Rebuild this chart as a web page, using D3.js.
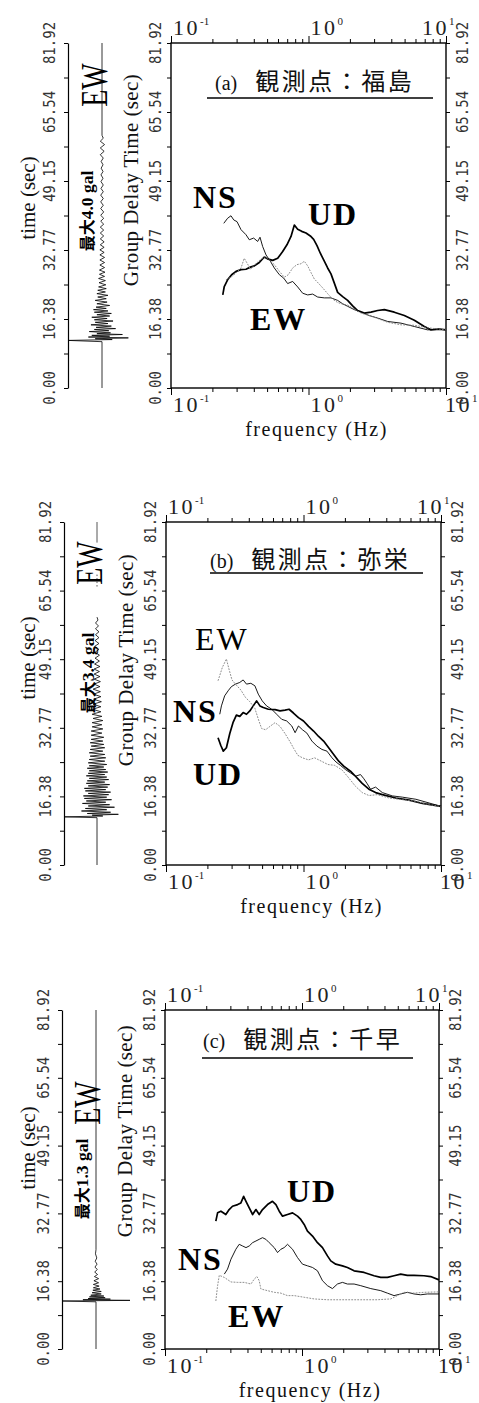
<!DOCTYPE html>
<html>
<head>
<meta charset="utf-8">
<script src="https://cdn.jsdelivr.net/npm/d3@7"></script>
<style>
html, body { margin: 0; padding: 0; background: #fff; }
svg { display: block; }
</style>
</head>
<body>
<div id="vis"></div>
<script>
// ---------------- data ----------------
var yTickValues = [0, 16.384, 32.768, 49.152, 65.536, 81.92];
var yTickLabels = ["0.00", "16.38", "32.77", "49.15", "65.54", "81.92"];
var xDecades = [0.1, 1, 10];
var xDecadeExp = ["-1", "0", "1"];
var panelLetters = ["(a)", "(b)", "(c)"];
var stations = ["福島", "弥栄", "千早"];
var peakGal = [4.0, 3.4, 1.3];
var peakLabels = ["4.0 gal", "3.4 gal", "1.3 gal"];
var componentNames = ["NS", "UD", "EW"];

// group delay time (sec) vs frequency (Hz)
var fukushimaNS = [[0.242,39.1],[0.258,40.3],[0.273,40.9],[0.286,39.9],[0.302,39.5],[0.323,37.6],[0.351,36.4],[0.371,35.2],[0.399,35.6],[0.427,34.8],[0.444,35.8],[0.464,33.6],[0.491,31.6],[0.528,30.1],[0.564,28.5],[0.614,26.9],[0.660,26.1],[0.705,24.8],[0.767,25.3],[0.834,24.0],[0.907,22.5],[0.986,22.1],[1.072,22.3],[1.166,21.6],[1.303,21.4],[1.457,21.4],[1.629,20.8],[1.772,20.0],[1.926,19.4],[2.154,18.6],[2.408,18.0],[2.769,17.2],[3.184,16.6],[3.764,15.8],[4.706,15.4],[5.884,14.6],[7.354,13.8],[8.69,14.0],[10,13.8]];
var fukushimaUD = [[0.238,22.1],[0.244,24.1],[0.258,25.7],[0.276,26.9],[0.297,27.7],[0.323,28.1],[0.351,28.2],[0.378,28.7],[0.404,29.0],[0.439,29.8],[0.477,31.1],[0.510,30.6],[0.549,30.3],[0.597,30.8],[0.649,32.4],[0.697,34.0],[0.746,36.0],[0.789,38.7],[0.834,37.7],[0.892,37.2],[0.959,36.8],[1.031,36.1],[1.090,35.3],[1.153,33.8],[1.219,32.0],[1.303,30.1],[1.378,28.5],[1.457,27.1],[1.541,24.9],[1.629,22.7],[1.772,21.7],[1.926,20.8],[2.095,19.5],[2.277,18.4],[2.546,17.8],[2.848,18.0],[3.184,18.4],[3.56,18.6],[4.208,18.0],[4.976,17.2],[5.884,16.1],[6.955,14.6],[7.777,13.8],[8.94,14.0],[10,13.8]];
var fukushimaEW = [[0.251,25.7],[0.273,26.3],[0.297,27.3],[0.323,28.5],[0.341,30.8],[0.357,29.7],[0.378,28.2],[0.408,29.3],[0.444,30.4],[0.483,31.2],[0.519,30.4],[0.564,29.3],[0.614,27.7],[0.667,26.3],[0.713,26.9],[0.767,28.5],[0.825,29.3],[0.882,29.5],[0.932,30.1],[0.986,29.0],[1.043,27.4],[1.102,25.9],[1.179,24.9],[1.274,23.7],[1.378,22.4],[1.498,21.1],[1.629,20.3],[1.772,19.9],[1.926,19.7],[2.154,18.7],[2.408,17.8],[3.011,16.8],[3.764,15.6],[4.706,15.0],[5.884,14.9],[7.354,14.3],[10,13.8]];

var yasakaNS = [[0.246,36.0],[0.253,38.0],[0.267,40.4],[0.283,41.6],[0.299,42.6],[0.320,43.2],[0.344,43.6],[0.364,44.2],[0.385,43.2],[0.414,43.4],[0.443,42.8],[0.469,40.8],[0.501,39.2],[0.539,38.0],[0.587,37.2],[0.638,36.0],[0.694,34.8],[0.755,34.4],[0.822,33.2],[0.869,31.6],[0.919,33.2],[0.983,32.3],[1.058,31.5],[1.151,29.6],[1.252,28.4],[1.362,27.6],[1.481,27.2],[1.612,25.6],[1.724,24.6],[1.855,23.8],[2.018,22.8],[2.195,22.0],[2.388,21.2],[2.597,21.6],[2.748,20.6],[2.907,19.4],[3.075,18.1],[3.345,18.6],[3.743,17.3],[4.43,16.5],[5.243,16.2],[6.563,15.7],[8.215,14.8],[10,14.0]];
var yasakaUD = [[0.239,30.4],[0.250,28.6],[0.261,27.2],[0.275,28.0],[0.291,31.4],[0.307,34.0],[0.325,35.8],[0.344,35.5],[0.364,36.4],[0.385,36.0],[0.407,36.8],[0.431,38.0],[0.456,39.2],[0.482,38.0],[0.510,37.6],[0.555,37.2],[0.621,37.1],[0.675,36.8],[0.734,37.0],[0.785,37.2],[0.845,36.3],[0.919,35.2],[1.0,34.4],[1.088,33.1],[1.184,32.0],[1.288,30.7],[1.4,29.6],[1.524,28.0],[1.658,26.4],[1.804,24.8],[1.962,23.6],[2.195,22.4],[2.388,21.2],[2.672,19.5],[2.989,18.1],[3.345,17.3],[3.743,16.8],[4.685,16.0],[5.867,15.5],[7.343,14.7],[10,14.0]];
var yasakaEW = [[0.239,44.0],[0.257,47.2],[0.275,49.2],[0.287,46.8],[0.302,44.2],[0.320,43.2],[0.350,41.8],[0.379,40.0],[0.407,39.0],[0.443,37.4],[0.474,34.4],[0.496,32.6],[0.530,32.3],[0.570,33.1],[0.621,34.0],[0.675,33.1],[0.734,31.4],[0.799,29.4],[0.850,27.8],[0.909,26.2],[0.983,25.6],[1.088,25.1],[1.204,25.6],[1.347,24.8],[1.507,24.0],[1.686,23.8],[1.908,22.7],[2.134,20.8],[2.388,18.8],[2.672,17.3],[2.989,16.6],[3.44,16.8],[4.187,16.0],[5.243,15.6],[6.563,15.2],[8.215,14.4],[10,14.0]];

var chihayaNS = [[0.271,18.1],[0.286,19.3],[0.303,21.7],[0.329,24.1],[0.348,25.3],[0.368,24.9],[0.390,24.5],[0.412,24.9],[0.436,25.7],[0.461,26.1],[0.487,26.5],[0.515,26.9],[0.545,26.5],[0.576,25.7],[0.627,24.5],[0.663,23.3],[0.701,24.1],[0.741,24.5],[0.784,25.3],[0.853,24.1],[0.927,22.1],[1.008,20.5],[1.096,20.1],[1.193,19.7],[1.297,18.9],[1.411,16.5],[1.534,15.3],[1.668,14.6],[1.814,15.7],[1.973,16.1],[2.146,15.7],[2.4,15.7],[2.685,15.3],[3.176,14.6],[3.755,14.1],[4.2,13.5],[4.697,12.9],[5.253,13.3],[5.875,13.7],[6.571,13.3],[7.348,13.1],[8.218,13.3],[10,13.3]];
var chihayaUD = [[0.235,30.9],[0.242,32.9],[0.256,33.3],[0.278,32.5],[0.294,33.7],[0.311,34.5],[0.339,34.9],[0.358,35.3],[0.375,36.9],[0.390,35.7],[0.412,34.1],[0.436,32.5],[0.461,33.7],[0.487,32.5],[0.515,33.7],[0.560,34.9],[0.609,35.7],[0.645,34.9],[0.682,33.3],[0.721,32.1],[0.784,32.5],[0.853,32.9],[0.927,32.1],[0.980,31.3],[1.037,30.1],[1.096,28.5],[1.193,27.3],[1.297,25.7],[1.411,24.5],[1.534,22.5],[1.622,21.3],[1.764,20.5],[1.973,20.1],[2.146,19.7],[2.4,18.9],[2.839,18.5],[3.357,17.7],[3.755,17.3],[4.2,17.3],[4.697,17.7],[5.253,18.1],[5.875,17.8],[6.571,17.8],[7.771,17.7],[8.691,17.5],[10,16.7]];
var chihayaEW = [[0.235,11.6],[0.242,15.3],[0.249,17.8],[0.271,17.3],[0.303,16.2],[0.339,16.1],[0.379,16.1],[0.424,15.7],[0.448,16.9],[0.469,17.5],[0.487,16.5],[0.501,14.5],[0.560,14.1],[0.627,13.7],[0.701,13.5],[0.784,12.9],[0.877,12.9],[1.037,12.5],[1.226,12.1],[1.534,11.9],[2.029,11.9],[2.685,11.9],[3.55,11.9],[4.442,12.1],[4.967,12.9],[5.556,13.7],[6.571,13.5],[7.771,13.7],[10,13.8]];

// EW acceleration traces: [time (sec), acceleration (gal)]
var fukushimaTrace = [[0,0],[11.0,0],[11.3,-4.0],[11.5,1.2],[11.7,-0.8],[11.9,3.1],[12.1,-1.6],[12.3,0.9],[12.5,-1.2],[12.7,2.4],[12.9,-0.6],[13.1,1.0],[13.4,-1.5],[13.6,0.8],[13.9,-0.9],[14.1,1.6],[14.4,-0.7],[14.7,1.1],[15.0,-1.3],[15.3,0.7],[15.6,-0.8],[15.9,1.3],[16.2,-0.9],[16.5,0.6],[16.8,-1.2],[17.1,0.9],[17.4,-0.6],[17.7,1.1],[18.0,-0.9],[18.3,0.7],[18.6,-1.0],[18.9,0.5],[19.2,-0.7],[19.6,0.9],[20.0,-0.6],[20.4,0.6],[20.8,-0.8],[21.2,0.5],[21.6,-0.5],[22.0,0.7],[22.4,-0.6],[22.8,0.4],[23.2,-0.5],[23.6,0.5],[24.0,-0.4],[24.5,0.45],[25.0,-0.35],[25.5,0.4],[26.0,-0.4],[26.5,0.3],[27.0,-0.3],[27.5,0.35],[28.0,-0.3],[28.6,0.3],[29.2,-0.25],[29.8,0.3],[30.4,-0.25],[31.0,0.3],[31.6,-0.25],[32.2,0.25],[32.8,-0.25],[33.4,0.25],[34.0,-0.2],[34.7,0.25],[35.4,-0.2],[36.1,0.2],[36.8,-0.2],[37.5,0.2],[38.2,-0.2],[38.9,0.2],[39.6,-0.15],[40.3,0.2],[41.0,-0.15],[41.8,0.2],[42.6,-0.15],[43.4,0.15],[44.2,-0.15],[45.0,0.15],[45.8,-0.15],[46.6,0.15],[47.4,-0.12],[48.2,0.15],[49.0,-0.12],[49.8,0.12],[50.6,-0.12],[51.4,0.12],[52.2,-0.1],[53.0,0.12],[53.8,-0.1],[54.6,0.15],[55.4,-0.2],[56.2,0.25],[57.0,-0.2],[57.8,0.3],[58.6,-0.2],[59.3,0.15],[60.0,0],[81.92,0]];
var yasakaTrace = [[0,0],[11.3,0],[11.5,-3.4],[11.7,0.6],[11.9,-0.5],[12.1,2.2],[12.3,-1.0],[12.6,1.4],[12.9,-1.6],[13.2,1.0],[13.5,-1.2],[13.8,1.8],[14.1,-0.9],[14.4,1.3],[14.7,-1.5],[15.0,0.9],[15.3,-1.1],[15.6,1.5],[15.9,-1.3],[16.2,1.0],[16.5,-1.4],[16.8,1.2],[17.1,-0.9],[17.4,1.4],[17.7,-1.2],[18.0,0.9],[18.3,-1.3],[18.6,1.1],[18.9,-0.9],[19.2,1.3],[19.5,-1.1],[19.8,0.8],[20.1,-1.0],[20.4,1.2],[20.7,-0.8],[21.0,1.0],[21.3,-1.1],[21.6,0.8],[21.9,-0.9],[22.2,1.1],[22.5,-0.8],[22.8,0.9],[23.1,-1.0],[23.4,0.7],[23.7,-0.8],[24.0,1.0],[24.4,-0.9],[24.8,0.8],[25.2,-0.8],[25.6,0.9],[26.0,-0.7],[26.4,0.8],[26.8,-0.8],[27.2,0.6],[27.6,-0.7],[28.0,0.8],[28.4,-0.6],[28.8,0.7],[29.2,-0.7],[29.6,0.6],[30.0,-0.6],[30.5,0.7],[31.0,-0.6],[31.5,0.5],[32.0,-0.6],[32.5,0.6],[33.0,-0.5],[33.5,0.5],[34.0,-0.5],[34.5,0.6],[35.0,-0.4],[35.5,0.5],[36.0,-0.5],[36.6,0.4],[37.2,-0.45],[37.8,0.4],[38.4,-0.4],[39.0,0.45],[39.6,-0.35],[40.2,0.4],[40.8,-0.35],[41.4,0.35],[42.0,-0.4],[42.6,0.3],[43.2,-0.3],[43.8,0.35],[44.4,-0.3],[45.0,0.3],[45.6,-0.3],[46.2,0.25],[46.8,-0.3],[47.4,0.3],[48.0,-0.25],[48.7,0.25],[49.4,-0.2],[50.1,0.25],[50.8,-0.2],[51.5,0.2],[52.2,-0.25],[52.9,0.2],[53.6,-0.2],[54.3,0.2],[55.0,-0.15],[55.7,0.2],[56.4,-0.15],[57.1,0.15],[57.8,-0.15],[58.5,0.1],[59.2,0]];
var yasakaTraceTail = [[66.5, 69.5], [77.0, 81.92]];   // faint baseline pieces left in the scan
var chihayaTrace = [[0,0],[11.4,0],[11.6,-1.3],[11.75,1.3],[11.9,-0.5],[12.05,0.55],[12.2,-0.3],[12.4,0.35],[12.6,-0.25],[12.8,0.3],[13.0,-0.2],[13.3,0.2],[13.6,-0.15],[13.9,0.2],[14.2,-0.12],[14.5,0.15],[14.8,-0.1],[15.2,0.12],[15.6,-0.1],[16.0,0.1],[16.5,-0.08],[17.0,0.1],[17.5,-0.06],[18.0,0.06],[18.6,-0.05],[19.2,0.05],[19.8,-0.04],[20.5,0.04],[21.2,-0.03],[22.0,0.03],[23.0,-0.02],[24.0,0],[81.92,0]];

var curves = [
	[fukushimaNS, fukushimaUD, fukushimaEW],
	[yasakaNS, yasakaUD, yasakaEW],
	[chihayaNS, chihayaUD, chihayaEW]
];
var traces = [fukushimaTrace, yasakaTrace, chihayaTrace];
var traceTails = [[], yasakaTraceTail, []];

// ---------------- layout (pixels) ----------------
var width = 479, height = 1403;
var layout = [
	{ top: 43, bottom: 388, fl: 171, fr: 446, ax: 68, bx: 102,
	  titleX: 215, titleY: 90, ul: [207, 433, 98],
	  ewY: 85, ewX: 107, maxY: 211, maxX: 93, timeY: 198, gdtY: 180,
	  lab: { NS: [193, 208], UD: [308, 225], EW: [250, 330] }, ewBold: true },
	{ top: 522, bottom: 865, fl: 166, fr: 441, ax: 64, bx: 97,
	  titleX: 210, titleY: 568, ul: [210, 423, 573],
	  ewY: 563, ewX: 102, maxY: 673, maxX: 94, timeY: 658, gdtY: 660,
	  lab: { NS: [173, 722], UD: [193, 785], EW: [195, 650] }, ewBold: false },
	{ top: 1010, bottom: 1349, fl: 165, fr: 439, ax: 62, bx: 96,
	  titleX: 203, titleY: 1048, ul: [202, 413, 1058],
	  ewY: 1103, ewX: 100, maxY: 1179, maxX: 88, timeY: 1148, gdtY: 1131,
	  lab: { NS: [178, 1270], UD: [287, 1202], EW: [228, 1327] }, ewBold: true }
];

var serif = "'Liberation Serif','Times New Roman',serif";
var cjk = "'Noto Sans CJK JP','Noto Sans CJK SC',sans-serif";
var mono = "'DejaVu Sans Mono','Liberation Mono',monospace";

var svg = d3.select('#vis').append('svg')
	.attr('width', width)
	.attr('height', height)
	.attr('viewBox', '0 0 ' + width + ' ' + height);

svg.append('rect').attr('width', width).attr('height', height).attr('fill', '#fff');

// minor ticks every half step of the labelled values
var yMinor = d3.range(0, 11).map(function(i){ return i * 8.192; });
var logMinor = [];
[0.1, 1].forEach(function(d){ for (var k = 2; k <= 9; k++) logMinor.push(d * k); });

function cleanAxis(g) {
	g.select('.domain').remove();
	g.selectAll('.tick line').attr('stroke', '#000').attr('stroke-width', 1);
}

function vText(g, x, y, txt, font, size, extra) {
	return g.append('text')
		.attr('transform', 'translate(' + x + ',' + y + ') rotate(-90)' + (extra || ''))
		.attr('text-anchor', 'middle')
		.style('font-family', font)
		.style('font-size', size + 'px')
		.attr('fill', '#111')
		.text(txt);
}

function drawPanel(i) {
	var L = layout[i];
	var g = svg.append('g').attr('class', 'panel-' + i);

	var x = d3.scaleLog().domain([0.1, 10]).range([L.fl, L.fr]);
	var y = d3.scaleLinear().domain([0, 81.92]).range([L.bottom, L.top]);
	var t = d3.scaleLinear().domain([0, 81.92]).range([L.bottom, L.top]);
	var amp = d3.scaleLinear().domain([-peakGal[i], 0]).range([L.ax, L.bx]);

	////////////////////// seismogram //////////////////////
	g.append('g')
		.attr('transform', 'translate(' + L.ax + ',0)')
		.call(d3.axisLeft(t).tickValues(yMinor).tickSize(4).tickSizeOuter(0).tickFormat(''))
		.call(function(a){
			a.select('.domain').attr('stroke', '#000').attr('stroke-width', 1.2);
			a.selectAll('.tick line').attr('stroke', '#000');
		});

	var traceLine = d3.line()
		.x(function(d){ return amp(d[1]); })
		.y(function(d){ return t(d[0]); });

	g.append('path')
		.datum(traces[i])
		.attr('d', traceLine)
		.attr('fill', 'none')
		.attr('stroke', '#000')
		.attr('stroke-width', 0.8)
		.attr('stroke-linejoin', 'round');

	traceTails[i].forEach(function(seg){
		g.append('line')
			.attr('x1', amp(0)).attr('x2', amp(0))
			.attr('y1', t(seg[0])).attr('y2', t(seg[1]))
			.attr('stroke', '#444').attr('stroke-width', 0.9)
			.attr('stroke-dasharray', seg[1] - seg[0] < 4 ? '1.5,2' : null);
	});

	yTickValues.forEach(function(v, k){
		vText(g, L.ax - 13, t(v), yTickLabels[k], mono, 14, ' scale(1,1.15)').attr('fill', '#333');
	});
	vText(g, 35, L.timeY, 'time (sec)', serif, 21);

	var mx = g.append('text')
		.attr('transform', 'translate(' + L.maxX + ',' + L.maxY + ') rotate(-90)')
		.attr('text-anchor', 'middle')
		.attr('fill', '#000')
		.style('font-weight', 'bold');
	mx.append('tspan').style('font-family', cjk).style('font-size', '16px').text('最大');
	mx.append('tspan').style('font-family', serif).style('font-size', '17.5px').text(peakLabels[i]);

	vText(g, L.ewX, L.ewY, 'EW', serif, 28, ' scale(1,1.35)').attr('fill', '#000');

	////////////////////// group delay plot //////////////////////
	g.append('g').attr('transform', 'translate(0,' + L.top + ')')
		.call(d3.axisTop(x).tickValues(logMinor).tickSize(4).tickFormat('')).call(cleanAxis);
	g.append('g').attr('transform', 'translate(0,' + L.top + ')')
		.call(d3.axisTop(x).tickValues(xDecades).tickSize(7).tickFormat('')).call(cleanAxis);
	g.append('g').attr('transform', 'translate(0,' + L.bottom + ')')
		.call(d3.axisBottom(x).tickValues(logMinor).tickSize(4).tickFormat('')).call(cleanAxis);
	g.append('g').attr('transform', 'translate(0,' + L.bottom + ')')
		.call(d3.axisBottom(x).tickValues(xDecades).tickSize(7).tickFormat('')).call(cleanAxis);
	g.append('g').attr('transform', 'translate(' + L.fl + ',0)')
		.call(d3.axisLeft(y).tickValues(yMinor).tickSize(4).tickFormat('')).call(cleanAxis);
	g.append('g').attr('transform', 'translate(' + L.fr + ',0)')
		.call(d3.axisRight(y).tickValues(yMinor).tickSize(4).tickFormat('')).call(cleanAxis);

	g.append('rect')
		.attr('x', L.fl).attr('y', L.top)
		.attr('width', L.fr - L.fl).attr('height', L.bottom - L.top)
		.attr('fill', 'none').attr('stroke', '#000').attr('stroke-width', 1.4);

	// decade labels, top and bottom
	function decadeLabel(k, yPos, isTop) {
		var lab = g.append('text')
			.attr('y', yPos)
			.style('font-family', serif)
			.attr('fill', '#222');
		var base = lab.append('tspan')
			.style('font-size', '22px')
			.style('letter-spacing', '2.5px')
			.text('10');
		lab.append('tspan')
			.attr('dy', -10)
			.style('font-size', '11px')
			.text(xDecadeExp[k]);
		var px = x(xDecades[k]) + 2;
		if (k === 2) px = isTop ? x(xDecades[k]) + 3 - base.node().getComputedTextLength()
		                        : x(xDecades[k]) - 1;
		lab.attr('x', px);
	}
	xDecades.forEach(function(d, k){
		decadeLabel(k, L.top - 8, true);
		decadeLabel(k, L.bottom + 24, false);
	});

	g.append('text')
		.attr('x', (L.fl + L.fr) / 2 + 8)
		.attr('y', L.bottom + 48)
		.attr('text-anchor', 'middle')
		.style('font-family', serif)
		.style('font-size', '20px')
		.style('letter-spacing', '1.5px')
		.attr('fill', '#111')
		.text('frequency (Hz)');

	yTickValues.forEach(function(v, k){
		vText(g, L.fl - 10, y(v), yTickLabels[k], mono, 14, ' scale(1,1.15)').attr('fill', '#333');
		vText(g, L.fr + 22, y(v), yTickLabels[k], mono, 14, ' scale(1,1.15)').attr('fill', '#333');
	});
	vText(g, L.fl - 33, L.gdtY, 'Group Delay Time (sec)', serif, 21).style('letter-spacing', '0.4px');

	// title
	var title = g.append('text')
		.attr('x', L.titleX).attr('y', L.titleY)
		.attr('fill', '#111');
	title.append('tspan').style('font-family', serif).style('font-size', '20px').text(panelLetters[i]);
	title.append('tspan').attr('dx', 18)
		.style('font-family', cjk).style('font-size', '24px').style('letter-spacing', '2.5px')
		.text('観測点：' + stations[i]);
	g.append('line')
		.attr('x1', L.ul[0]).attr('x2', L.ul[1])
		.attr('y1', L.ul[2]).attr('y2', L.ul[2])
		.attr('stroke', '#000').attr('stroke-width', 1.3);

	// curves
	var line = d3.line()
		.x(function(d){ return x(d[0]); })
		.y(function(d){ return y(d[1]); });
	var styles = [
		{ stroke: '#000', w: 0.9, dash: null },
		{ stroke: '#000', w: 1.7, dash: null },
		{ stroke: '#808080', w: 0.9, dash: '1.8,1.2' }
	];
	curves[i].forEach(function(c, k){
		g.append('path')
			.datum(c)
			.attr('d', line)
			.attr('fill', 'none')
			.attr('stroke', styles[k].stroke)
			.attr('stroke-width', styles[k].w)
			.attr('stroke-dasharray', styles[k].dash)
			.attr('stroke-linejoin', 'round');
	});

	componentNames.forEach(function(name){
		var p = L.lab[name];
		g.append('text')
			.attr('x', p[0]).attr('y', p[1])
			.style('font-family', serif)
			.style('font-size', '32px')
			.style('font-weight', (name === 'EW' && !L.ewBold) ? 'normal' : 'bold')
			.style('letter-spacing', '2px')
			.attr('fill', '#000')
			.text(name);
	});
}

for (var i = 0; i < 3; i++) drawPanel(i);
</script>
</body>
</html>
